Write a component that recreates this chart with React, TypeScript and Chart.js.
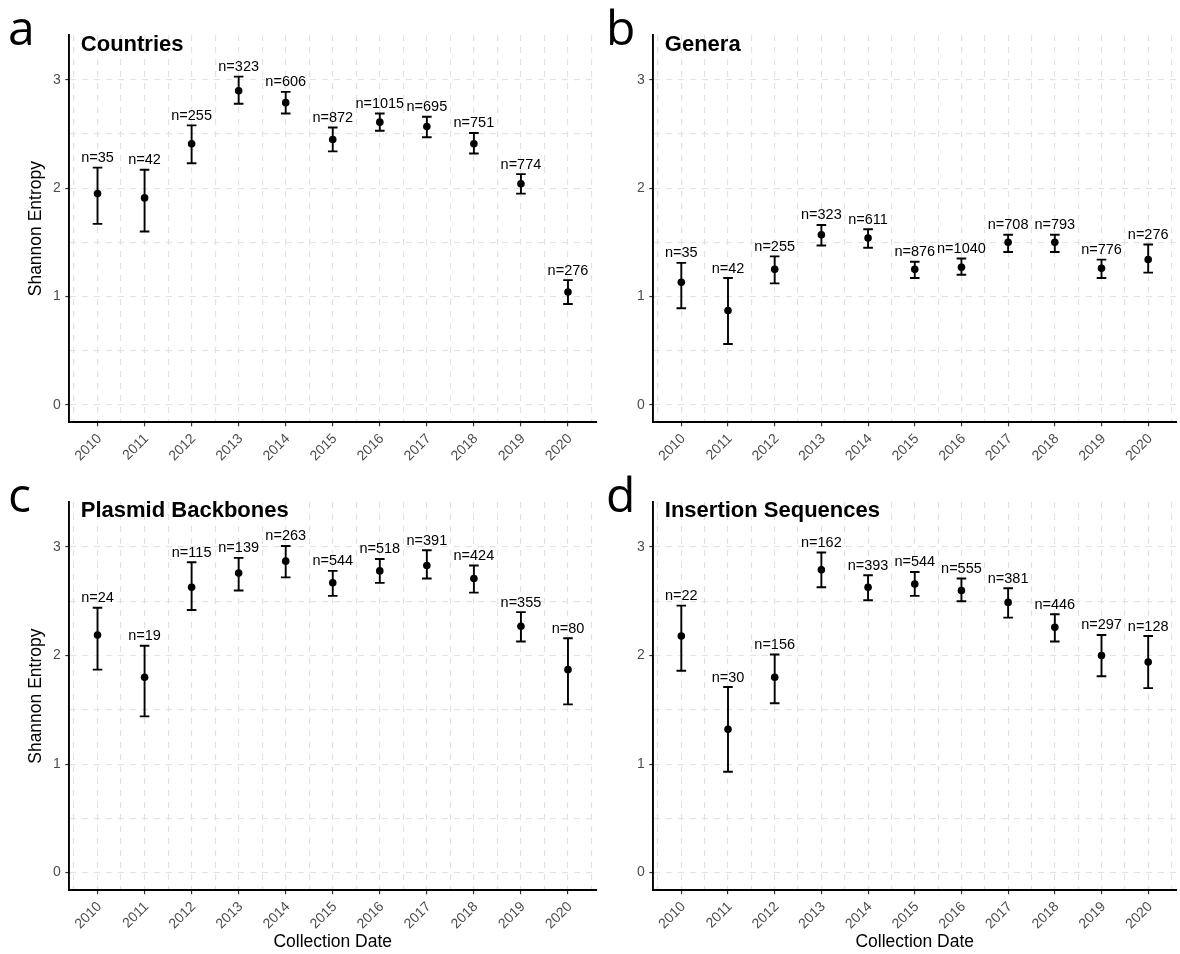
import React, { useEffect, useRef } from "react";
import { Chart, registerables } from "chart.js";

Chart.register(...registerables);

// ---------- data ----------
const years = [2010, 2011, 2012, 2013, 2014, 2015, 2016, 2017, 2018, 2019, 2020];
const xGridValues = [2009.5, 2010, 2010.5, 2011, 2011.5, 2012, 2012.5, 2013, 2013.5, 2014, 2014.5, 2015, 2015.5, 2016, 2016.5, 2017, 2017.5, 2018, 2018.5, 2019, 2019.5, 2020, 2020.5];
const yGridValues = [0, 0.5, 1, 1.5, 2, 2.5, 3];

const countriesMean = [1.95, 1.91, 2.41, 2.90, 2.79, 2.45, 2.61, 2.57, 2.41, 2.04, 1.04];
const countriesLower = [1.67, 1.60, 2.23, 2.78, 2.69, 2.34, 2.53, 2.47, 2.32, 1.95, 0.93];
const countriesUpper = [2.19, 2.17, 2.58, 3.03, 2.89, 2.56, 2.69, 2.66, 2.51, 2.13, 1.15];
const countriesN = [35, 42, 255, 323, 606, 872, 1015, 695, 751, 774, 276];

const generaMean = [1.13, 0.87, 1.25, 1.57, 1.54, 1.25, 1.27, 1.50, 1.50, 1.26, 1.34];
const generaLower = [0.89, 0.56, 1.12, 1.47, 1.45, 1.17, 1.20, 1.41, 1.41, 1.17, 1.22];
const generaUpper = [1.31, 1.17, 1.37, 1.66, 1.62, 1.32, 1.35, 1.57, 1.57, 1.34, 1.48];
const generaN = [35, 42, 255, 323, 611, 876, 1040, 708, 793, 776, 276];

const backbonesMean = [2.19, 1.80, 2.63, 2.76, 2.87, 2.67, 2.78, 2.83, 2.71, 2.27, 1.87];
const backbonesLower = [1.87, 1.44, 2.42, 2.60, 2.72, 2.55, 2.67, 2.71, 2.58, 2.13, 1.55];
const backbonesUpper = [2.44, 2.09, 2.86, 2.90, 3.01, 2.78, 2.89, 2.97, 2.83, 2.40, 2.16];
const backbonesN = [24, 19, 115, 139, 263, 544, 518, 391, 424, 355, 80];

const insertionMean = [2.18, 1.32, 1.80, 2.79, 2.63, 2.66, 2.60, 2.49, 2.26, 2.00, 1.94];
const insertionLower = [1.86, 0.93, 1.56, 2.63, 2.51, 2.55, 2.50, 2.35, 2.13, 1.81, 1.70];
const insertionUpper = [2.46, 1.71, 2.01, 2.95, 2.74, 2.77, 2.71, 2.62, 2.38, 2.19, 2.18];
const insertionN = [22, 30, 156, 162, 393, 544, 555, 381, 446, 297, 128];

const panelLetters = ["a", "b", "c", "d"];
const panelTitles = ["Countries", "Genera", "Plasmid Backbones", "Insertion Sequences"];
const yAxisTitle = "Shannon Entropy";
const xAxisTitle = "Collection Date";

const Y_MIN = -0.163;
const Y_MAX = 3.415;
const X_MIN = 2009.4;
const X_MAX = 2020.6;

const FONT = "'Liberation Sans', Arial, Helvetica, sans-serif";

// ---------- layout ----------
type Layout = {
  left: number; top: number; w: number; h: number;
  areaLeft: number; areaRight: number; areaTop: number; areaBottom: number;
  showY: boolean; showX: boolean;
  letterX: number; letterY: number; titleY: number;
};

const layouts: Layout[] = [
  { left: 0, top: 0, w: 600, h: 470, areaLeft: 69.3, areaRight: 597.3, areaTop: 35, areaBottom: 422.3, showY: true, showX: false, letterX: 8, letterY: 45, titleY: 50.5 },
  { left: 590, top: 0, w: 590, h: 470, areaLeft: 63.3, areaRight: 590, areaTop: 35, areaBottom: 422.3, showY: false, showX: false, letterX: 16, letterY: 45, titleY: 50.5 },
  { left: 0, top: 470, w: 600, h: 484, areaLeft: 69.3, areaRight: 597.3, areaTop: 32, areaBottom: 420.3, showY: true, showX: true, letterX: 8, letterY: 42, titleY: 47.3 },
  { left: 590, top: 470, w: 590, h: 484, areaLeft: 63.3, areaRight: 590, areaTop: 32, areaBottom: 420.3, showY: false, showX: true, letterX: 16, letterY: 42, titleY: 47.3 },
];

const seriesMeans = [countriesMean, generaMean, backbonesMean, insertionMean];
const seriesLowers = [countriesLower, generaLower, backbonesLower, insertionLower];
const seriesUppers = [countriesUpper, generaUpper, backbonesUpper, insertionUpper];
const seriesNs = [countriesN, generaN, backbonesN, insertionN];

function makeConfig(idx: number): any {
  const L = layouts[idx];
  const means = seriesMeans[idx];
  const lowers = seriesLowers[idx];
  const uppers = seriesUppers[idx];
  const ns = seriesNs[idx];

  const errorBars = {
    id: "errorBars" + idx,
    beforeDatasetsDraw(chart: any) {
      const { ctx, scales } = chart;
      const xs = scales.x;
      const ys = scales.y;
      ctx.save();
      ctx.strokeStyle = "#000";
      ctx.lineWidth = 1.9;
      years.forEach((yr, i) => {
        const px = xs.getPixelForValue(yr);
        const pl = ys.getPixelForValue(lowers[i]);
        const pu = ys.getPixelForValue(uppers[i]);
        ctx.beginPath();
        ctx.moveTo(px, pl);
        ctx.lineTo(px, pu);
        ctx.moveTo(px - 4.8, pl);
        ctx.lineTo(px + 4.8, pl);
        ctx.moveTo(px - 4.8, pu);
        ctx.lineTo(px + 4.8, pu);
        ctx.stroke();
      });
      ctx.restore();
    },
    afterDatasetsDraw(chart: any) {
      const { ctx, scales } = chart;
      const xs = scales.x;
      const ys = scales.y;
      ctx.save();
      ctx.fillStyle = "#000";
      ctx.font = `14.5px ${FONT}`;
      ctx.textAlign = "center";
      ctx.textBaseline = "alphabetic";
      years.forEach((yr, i) => {
        const px = xs.getPixelForValue(yr);
        const pu = ys.getPixelForValue(uppers[i]);
        ctx.fillText("n=" + ns[i], px, pu - 5.5);
      });
      ctx.restore();
    },
    afterDraw(chart: any) {
      const { ctx, chartArea } = chart;
      ctx.save();
      ctx.fillStyle = "#000";
      ctx.textAlign = "left";
      ctx.textBaseline = "alphabetic";
      ctx.font = `48px 'Open Sans', 'Noto Sans', sans-serif`;
      ctx.fillText(panelLetters[idx], L.letterX, L.letterY);
      ctx.font = `bold 22px ${FONT}`;
      ctx.fillText(panelTitles[idx], chartArea.left + 11.5, L.titleY);
      ctx.restore();
    },
  };

  const isInt = (v: any) => typeof v === "number" && Math.abs(v - Math.round(v)) < 1e-9;

  return {
    type: "scatter",
    data: {
      datasets: [
        {
          data: years.map((yr, i) => ({ x: yr, y: means[i] })),
          pointRadius: 3.8,
          pointHoverRadius: 3.8,
          pointBackgroundColor: "#000",
          pointBorderColor: "#000",
          pointBorderWidth: 0,
          showLine: false,
        },
      ],
    },
    options: {
      responsive: false,
      maintainAspectRatio: false,
      animation: false,
      devicePixelRatio: 1,
      events: [],
      layout: {
        padding: { left: 0, right: L.w - L.areaRight, top: L.areaTop, bottom: 0 },
      },
      plugins: {
        legend: { display: false },
        tooltip: { enabled: false },
        title: { display: false },
      },
      scales: {
        x: {
          type: "linear",
          min: X_MIN,
          max: X_MAX,
          afterBuildTicks: (s: any) => {
            s.ticks = xGridValues.map((v) => ({ value: v }));
          },
          afterFit: (s: any) => {
            s.height = L.h - L.areaBottom;
            s.paddingLeft = 0;
            s.paddingRight = 0;
          },
          ticks: {
            autoSkip: false,
            minRotation: 45,
            maxRotation: 45,
            padding: 4.3,
            labelOffset: 2,
            color: "#4d4d4d",
            font: { family: FONT, size: 14 },
            callback: (v: any) => (isInt(v) ? String(v) : ""),
          },
          grid: {
            color: "#e2e2e2",
            lineWidth: 1.1,
            tickLength: 4,
            tickWidth: 1.2,
            tickColor: (c: any) => (c.tick && isInt(c.tick.value) ? "#333333" : "rgba(0,0,0,0)"),
          },
          border: { display: true, color: "#000", width: 1.9, dash: [6, 6] },
          title: {
            display: L.showX,
            text: xAxisTitle,
            color: "#000",
            font: { family: FONT, size: 17.5 },
            padding: { top: 0, bottom: 1.5 },
          },
        },
        y: {
          type: "linear",
          min: Y_MIN,
          max: Y_MAX,
          afterBuildTicks: (s: any) => {
            s.ticks = yGridValues.map((v) => ({ value: v }));
          },
          afterFit: (s: any) => {
            s.width = L.areaLeft;
            s.paddingTop = 0;
            s.paddingBottom = 0;
          },
          ticks: {
            padding: 4.5,
            color: "#4d4d4d",
            font: { family: FONT, size: 14 },
            callback: (v: any) => (isInt(v) ? String(v) : ""),
          },
          grid: {
            color: "#e2e2e2",
            lineWidth: 1.1,
            tickLength: 4,
            tickWidth: 1.2,
            tickColor: (c: any) => (c.tick && isInt(c.tick.value) ? "#333333" : "rgba(0,0,0,0)"),
          },
          border: { display: true, color: "#000", width: 1.9, dash: [6, 6] },
          title: {
            display: L.showY,
            text: yAxisTitle,
            color: "#000",
            font: { family: FONT, size: 17.5 },
            padding: { top: 26, bottom: 0 },
          },
        },
      },
    },
    plugins: [errorBars],
  };
}

function Panel({ idx }: { idx: number }) {
  const ref = useRef<HTMLCanvasElement | null>(null);
  const L = layouts[idx];
  useEffect(() => {
    if (!ref.current) return;
    const chart = new Chart(ref.current, makeConfig(idx));
    return () => chart.destroy();
  }, [idx]);
  return (
    <canvas
      ref={ref}
      width={L.w}
      height={L.h}
      style={{ position: "absolute", left: L.left, top: L.top, width: L.w, height: L.h, display: "block" }}
    />
  );
}

export default function App() {
  return (
    <div style={{ position: "absolute", left: 0, top: 0, width: 1180, height: 954, background: "#fff", overflow: "hidden" }}>
      {[0, 1, 2, 3].map((i) => (
        <Panel key={i} idx={i} />
      ))}
    </div>
  );
}
